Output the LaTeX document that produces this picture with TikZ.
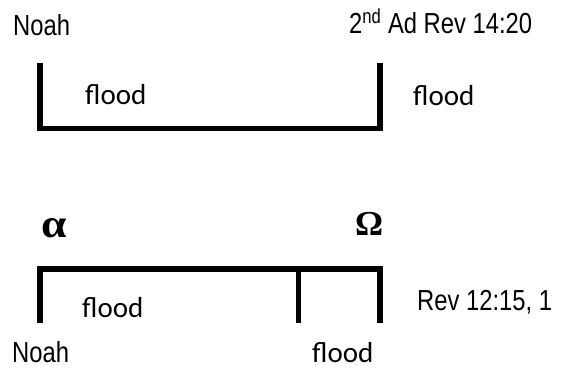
\documentclass[tikz,border=0pt]{standalone}
\usepackage{fontspec}
\usetikzlibrary{positioning}
\newfontfamily\narrowsans[FakeStretch=0.82]{Liberation Sans}
\newfontfamily\floodfont{Carlito}
\newfontfamily\greekfont{Liberation Serif}
\tikzstyle{reftext} = [anchor=base west, inner sep=0pt, font=\narrowsans\fontsize{29}{34}\selectfont]
\tikzstyle{floodtext} = [anchor=base west, inner sep=0pt, font=\floodfont\fontsize{29}{34}\selectfont]
\tikzstyle{greektext} = [anchor=base west, inner sep=0pt, font=\greekfont\bfseries\fontsize{35}{40}\selectfont]
\tikzstyle{bar} = [draw, line width=5.5pt, line join=miter]

\begin{document}
\begin{tikzpicture}[x=1pt, y=-1pt]
            \useasboundingbox (0,0) rectangle (564,368);

            % first picture: the flood of Noah
            \node[reftext] (noah_top) at (13,35) {Noah};
            \node[reftext] (rev14) at (349,33) {2\textsuperscript{nd} Ad Rev 14:20};
            \node[floodtext] (flood_in) at (85,104) {flood};
            \node[floodtext] (flood_out) at (413,105) {flood};

            \coordinate (a_top) at (40,63);
            \coordinate (a_bot) at (40,128.5);
            \coordinate (b_bot) at (380,128.5);
            \coordinate (b_top) at (380,63);
            \draw[bar] (a_top) -- (a_bot) -- (b_bot) -- (b_top);

            % second picture: alpha to omega
            \node[greektext] (alpha) at (41,237) {\scalebox{1.3}[1.15]{α}};
            \node[greektext] (omega) at (355,235) {Ω};

            \coordinate (c_bot) at (40,323);
            \coordinate (c_top) at (40,269);
            \coordinate (d_top) at (380,269);
            \coordinate (d_bot) at (380,323);
            \coordinate (m_top) at (298.5,269);
            \coordinate (m_bot) at (298.5,323);
            \draw[bar] (c_bot) -- (c_top) -- (d_top) -- (d_bot);
            \draw[bar] (m_top) -- (m_bot);

            \node[floodtext] (flood_low) at (82,317) {flood};
            \node[reftext] (rev12) at (417,310) {Rev 12:15, 1};
            \node[reftext] (noah_bot) at (12,362) {Noah};
            \node[floodtext] (flood_end) at (312,362) {flood};
        \end{tikzpicture}
\end{document}
